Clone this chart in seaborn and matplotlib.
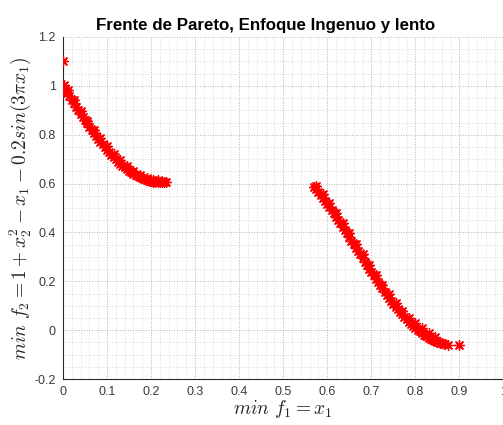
import matplotlib
matplotlib.use("Agg")
import matplotlib.pyplot as plt
from matplotlib.ticker import MultipleLocator, FuncFormatter
import seaborn as sns
import pandas as pd

# Pareto front points: first branch, second branch, and a stray dominated point
f1_branch_a = [0.000, 0.002, 0.005, 0.008, 0.010, 0.015, 0.020, 0.025, 0.030, 0.035,
               0.040, 0.045, 0.050, 0.055, 0.060, 0.065, 0.070, 0.075, 0.080, 0.085,
               0.090, 0.095, 0.100, 0.105, 0.110, 0.115, 0.120, 0.125, 0.130, 0.135,
               0.140, 0.145, 0.150, 0.155, 0.160, 0.165, 0.170, 0.175, 0.180, 0.185,
               0.190, 0.195, 0.200, 0.205, 0.210, 0.215, 0.220, 0.225, 0.230, 0.233,
               0.012, 0.025, 0.040, 0.055, 0.070, 0.085, 0.100, 0.115, 0.130, 0.145,
               0.160, 0.175, 0.190, 0.205, 0.215]
f2_branch_a = [1.000, 1.005, 0.986, 0.978, 0.971, 0.957, 0.943, 0.929, 0.914, 0.900,
               0.886, 0.872, 0.859, 0.846, 0.833, 0.820, 0.807, 0.795, 0.783, 0.771,
               0.760, 0.749, 0.738, 0.728, 0.718, 0.708, 0.699, 0.690, 0.682, 0.674,
               0.666, 0.659, 0.652, 0.646, 0.640, 0.635, 0.630, 0.626, 0.622, 0.618,
               0.615, 0.612, 0.610, 0.608, 0.606, 0.605, 0.605, 0.605, 0.605, 0.606,
               0.985, 0.942, 0.897, 0.858, 0.820, 0.785, 0.752, 0.722, 0.695, 0.672,
               0.652, 0.636, 0.624, 0.616, 0.613]

f1_branch_b = [0.570, 0.575, 0.580, 0.585, 0.590, 0.595, 0.600, 0.605, 0.610, 0.615,
               0.620, 0.625, 0.630, 0.635, 0.640, 0.645, 0.650, 0.655, 0.660, 0.665,
               0.670, 0.675, 0.680, 0.685, 0.690, 0.695, 0.700, 0.705, 0.710, 0.715,
               0.720, 0.725, 0.730, 0.735, 0.740, 0.745, 0.750, 0.755, 0.760, 0.765,
               0.770, 0.775, 0.780, 0.785, 0.790, 0.795, 0.800, 0.805, 0.810, 0.815,
               0.820, 0.825, 0.830, 0.835, 0.840, 0.845, 0.850, 0.855, 0.860, 0.865,
               0.875, 0.900,
               0.575, 0.590, 0.605, 0.620, 0.635, 0.650, 0.665, 0.680, 0.695, 0.710,
               0.725, 0.740, 0.755, 0.770, 0.785, 0.800, 0.815, 0.830, 0.845]
f2_branch_b = [0.588, 0.577, 0.566, 0.554, 0.542, 0.530, 0.518, 0.505, 0.492, 0.479,
               0.465, 0.452, 0.438, 0.424, 0.410, 0.396, 0.381, 0.367, 0.353, 0.338,
               0.324, 0.310, 0.295, 0.281, 0.266, 0.252, 0.238, 0.224, 0.211, 0.197,
               0.184, 0.171, 0.158, 0.146, 0.133, 0.121, 0.109, 0.097, 0.086, 0.075,
               0.065, 0.055, 0.045, 0.035, 0.026, 0.018, 0.010, 0.002, -0.005, -0.012,
               -0.018, -0.024, -0.030, -0.035, -0.040, -0.044, -0.048, -0.051, -0.054, -0.056,
               -0.059, -0.062,
               0.592, 0.557, 0.520, 0.480, 0.438, 0.396, 0.353, 0.310, 0.267, 0.225,
               0.185, 0.147, 0.112, 0.080, 0.052, 0.028, 0.008, -0.012, -0.027]

f1_stray = [0.000]
f2_stray = [1.100]

x_ticks = [0, 0.1, 0.2, 0.3, 0.4, 0.5, 0.6, 0.7, 0.8, 0.9, 1.0]
y_ticks = [-0.2, 0, 0.2, 0.4, 0.6, 0.8, 1.0, 1.2]

df = pd.DataFrame({
    "f1": f1_branch_a + f1_branch_b + f1_stray,
    "f2": f2_branch_a + f2_branch_b + f2_stray,
})

sns.set_style("white")
plt.rcParams["font.family"] = ["Liberation Sans", "DejaVu Sans"]
plt.rcParams["mathtext.fontset"] = "cm"

fig = plt.figure(figsize=(5.03, 4.25), dpi=100)
ax = fig.add_axes([0.125, 0.108, 0.876, 0.805])

axis_gray = "#262626"
label_gray = "#3a3a3a"

sns.scatterplot(data=df, x="f1", y="f2", ax=ax, marker=(8, 2, 0), s=50,
                color="red", edgecolor="red", linewidth=1.0, zorder=3)

ax.set_xlim(0, 1)
ax.set_ylim(-0.2, 1.2)
ax.set_xticks(x_ticks)
ax.set_yticks(y_ticks)
fmt = FuncFormatter(lambda v, _: "%g" % round(v, 2))
ax.xaxis.set_major_formatter(fmt)
ax.yaxis.set_major_formatter(fmt)
ax.xaxis.set_minor_locator(MultipleLocator(0.02))
ax.yaxis.set_minor_locator(MultipleLocator(0.05))

ax.grid(True, which="major", linestyle=":", color="#b4b4b4", linewidth=0.7)
ax.grid(True, which="minor", linestyle=":", color="#d4d4d4", linewidth=0.6)
ax.set_axisbelow(True)

for side in ("top", "right"):
    ax.spines[side].set_visible(False)
for side in ("left", "bottom"):
    ax.spines[side].set_color(axis_gray)
    ax.spines[side].set_linewidth(0.8)

ax.tick_params(axis="both", which="major", direction="in", length=3.5,
               width=0.7, color=axis_gray, labelcolor=label_gray, labelsize=9, pad=5)
ax.tick_params(axis="both", which="minor", length=0)

ax.set_xlabel(r"$min\ f_1 = x_1$", fontsize=14, color=axis_gray, labelpad=0)
ax.set_ylabel(r"$min\ f_2 = 1 + x_2^2 - x_1 - 0.2sin(3\pi x_1)$", fontsize=14,
              color=axis_gray, labelpad=1)
ax.set_title("Frente de Pareto, Enfoque Ingenuo y lento", fontsize=12.2,
             fontweight="bold", color="black", x=0.46, pad=5)

fig.savefig("out.png", dpi=100, facecolor="white")
